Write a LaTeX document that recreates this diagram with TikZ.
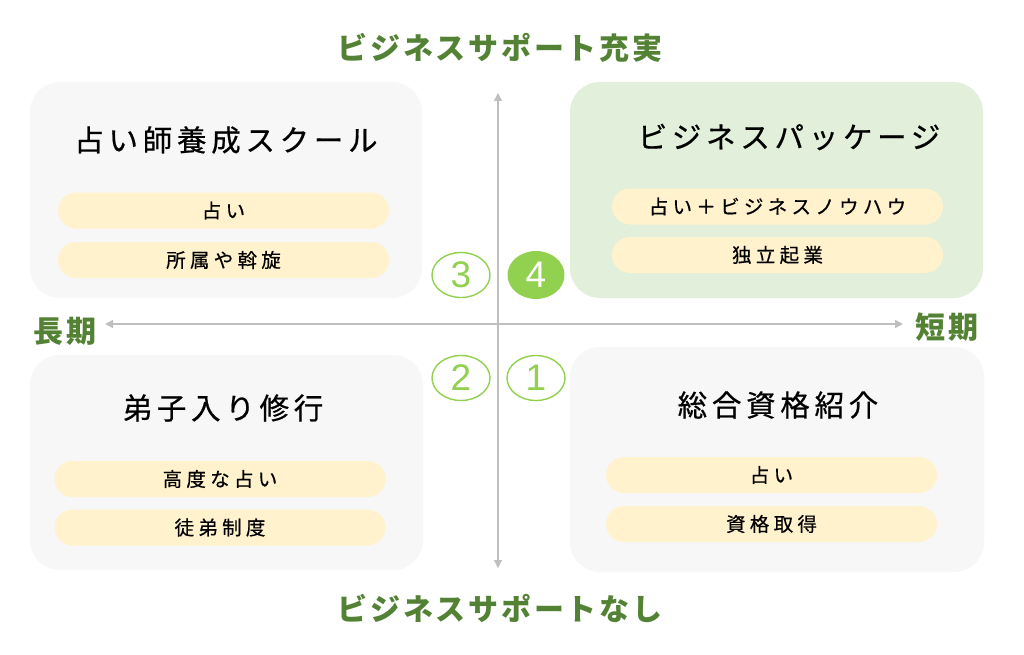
\documentclass[tikz,border=0pt]{standalone}
\usepackage{fontspec}
\usetikzlibrary{arrows.meta}
\newfontfamily\jptitle{Noto Sans CJK JP}[LetterSpace=16,FakeBold=0.6]
\newfontfamily\jppill{Noto Sans CJK JP}[LetterSpace=22,FakeBold=0.5]
\newfontfamily\jpaxis{Noto Sans CJK JP}[LetterSpace=9]
\newfontfamily\numfont{Liberation Sans}
\definecolor{boxgray}{HTML}{F7F7F7}
\definecolor{boxgreen}{HTML}{E2EFDA}
\definecolor{pillfill}{HTML}{FFF2CC}
\definecolor{axisgray}{HTML}{BFBFBF}
\definecolor{labgreen}{HTML}{548235}
\definecolor{circgreen}{HTML}{92D050}
\tikzset{
  qbox/.style={rectangle, rounded corners=30pt, inner sep=0pt},
  pill/.style={rectangle, rounded corners=18pt, fill=pillfill, inner sep=0pt, minimum width=331pt, minimum height=36pt, font=\jppill\fontsize{19.5}{22}\selectfont},
  qtitle/.style={inner sep=0pt, font=\jptitle\fontsize{29.5}{32}\selectfont},
  axlab/.style={inner sep=0pt, text=labgreen, font=\jpaxis\bfseries\fontsize{30}{34}\selectfont},
  axline/.style={draw=axisgray, line width=1.5pt},
  numc/.style={ellipse, draw=circgreen, line width=1.4pt, minimum width=58pt, minimum height=45pt, inner sep=0pt, text=circgreen, font=\numfont\fontsize{37}{40}\selectfont},
  numf/.style={ellipse, fill=circgreen, minimum width=57pt, minimum height=48pt, inner sep=0pt, text=white, font=\numfont\fontsize{37}{40}\selectfont},
}
\usetikzlibrary{shapes.geometric}
\begin{document}
\begin{tikzpicture}[x=1pt,y=-1pt]
\useasboundingbox[fill=white] (0,0) rectangle (1024,655);
% quadrant boxes
\node[qbox, fill=boxgray, minimum width=392pt, minimum height=216pt] (tlbox) at (226,190) {};
\node[qbox, fill=boxgreen, minimum width=413pt, minimum height=216pt] (trbox) at (776.5,190) {};
\node[qbox, fill=boxgray, minimum width=393pt, minimum height=215pt] (blbox) at (226.5,462.5) {};
\node[qbox, fill=boxgray, minimum width=414pt, minimum height=225pt] (brbox) at (777,459.5) {};
% titles
\node[qtitle] (tltitle) at (226,140) {占い師養成スクール};
\node[qtitle] (trtitle) at (789,137) {ビジネスパッケージ};
\node[qtitle] (bltitle) at (223,408) {弟子入り修行};
\node[qtitle] (brtitle) at (778,405) {総合資格紹介};
% pills
\node[pill] (tlp1) at (223.5,210.5) {占い};
\node[pill] (tlp2) at (223.5,260) {所属や斡旋};
\node[pill] (trp1) at (777.5,206.5) {占い＋ビジネスノウハウ};
\node[pill] (trp2) at (777.5,255) {独立起業};
\node[pill] (blp1) at (220,479) {高度な占い};
\node[pill] (blp2) at (220,527.5) {徒弟制度};
\node[pill] (brp1) at (771.5,475) {占い};
\node[pill] (brp2) at (771.5,524) {資格取得};
% axes
\coordinate (vtop) at (498,93);
\coordinate (vbot) at (498,568);
\coordinate (hleft) at (105,324);
\coordinate (hright) at (903,324);
\draw[axline, {Triangle[width=8pt,length=8pt]}-{Triangle[width=8pt,length=8pt]}, fill=axisgray] (vbot) -- (vtop);
\draw[axline, {Triangle[width=8pt,length=8pt]}-{Triangle[width=8pt,length=8pt]}, fill=axisgray] (hleft) -- (hright);
% axis labels
\node[axlab] (toplab) at (500,48) {ビジネスサポート充実};
\node[axlab] (botlab) at (500,608) {ビジネスサポートなし};
\node[axlab] (leftlab) at (65,331) {長期};
\node[axlab] (rightlab) at (947,327) {短期};
% numbered circles
\node[numc] (n3) at (461,275) {3};
\node[numf] (n4) at (536,275) {4};
\node[numc] (n2) at (461,378) {2};
\node[numc] (n1) at (536,378) {1};
\end{tikzpicture}
\end{document}
